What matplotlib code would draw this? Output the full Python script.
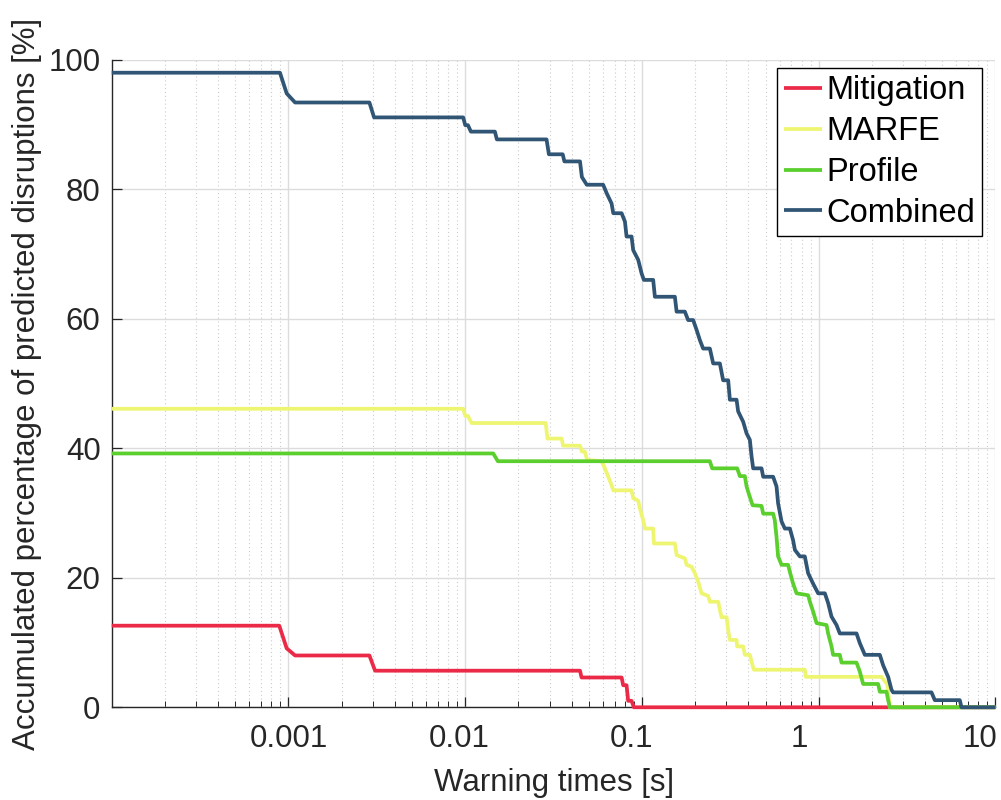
import numpy as np
import matplotlib
matplotlib.use('Agg')
import matplotlib.pyplot as plt
from matplotlib.ticker import LogLocator, NullFormatter
import matplotlib.transforms as mtransforms

# ---------------- data ----------------
series_names = ['Mitigation', 'MARFE', 'Profile', 'Combined']
series_colors = ['#EB2A47', '#EEF571', '#5ACF2D', '#315574']

mitigation_t = [1e-4, 8.87e-4, 9.77e-4, 1.09e-3, 2.87e-3, 3.09e-3, 4.46e-2, 4.55e-2,
                7.67e-2, 7.83e-2, 8.18e-2, 8.35e-2, 8.73e-2, 9.00e-2, 10]
mitigation_pct = [12.6, 12.6, 9.1, 8.0, 8.0, 5.65, 5.65, 4.6,
                  4.6, 3.4, 3.4, 1.0, 1.0, 0.0, 0.0]

marfe_t = [1e-4, 9.74e-3, 1.00e-2, 1.036e-2, 1.087e-2, 2.85e-2, 2.92e-2, 3.51e-2, 3.58e-2,
           4.46e-2, 4.57e-2, 4.75e-2, 4.89e-2, 5.91e-2, 6.17e-2, 6.44e-2, 6.73e-2, 6.88e-2,
           8.73e-2, 8.92e-2, 9.52e-2, 9.73e-2, 0.1016, 0.1040, 0.1157, 0.1168, 0.1535, 0.157,
           0.1748, 0.1788, 0.1908, 0.1992, 0.208, 0.2173, 0.2367, 0.2421, 0.270, 0.2758,
           0.282, 0.301, 0.3074, 0.3142, 0.3428, 0.3456, 0.3736, 0.3819, 0.4076, 0.417,
           0.4295, 0.834, 0.845, 2.265, 2.366, 2.44, 2.525, 10]
marfe_pct = [46.1, 46.1, 45.0, 45.0, 43.9, 43.9, 41.5, 41.5, 40.4,
             40.4, 39.5, 39.5, 38.2, 38.0, 36.9, 35.6, 34.3, 33.5,
             33.5, 32.3, 31.9, 30.7, 28.9, 27.6, 27.6, 25.3, 25.3, 23.5,
             23.0, 22.0, 21.7, 20.7, 19.4, 17.6, 17.2, 16.3, 16.3, 15.0,
             13.9, 13.9, 11.9, 10.4, 10.4, 9.4, 9.4, 8.1, 8.1, 7.0,
             5.8, 5.8, 4.7, 4.7, 4.0, 3.6, 0.0, 0.0]

profile_t = [1e-4, 1.44e-2, 1.53e-2, 0.2421, 0.2495, 0.3456, 0.3579, 0.3819, 0.3906, 0.404,
             0.4224, 0.4747, 0.485, 0.5521, 0.564, 0.577, 0.589, 0.616, 0.671, 0.6866,
             0.716, 0.749, 0.871, 0.891, 0.929, 0.972, 1.107, 1.13, 1.181, 1.206,
             1.316, 1.346, 1.636, 1.708, 1.783, 2.168, 2.216, 2.418, 2.47, 2.525, 10]
profile_pct = [39.2, 39.2, 38.0, 38.0, 36.9, 36.9, 35.7, 35.7, 34.1, 32.8,
               31.2, 31.1, 29.9, 29.9, 28.9, 26.3, 23.3, 22.0, 22.0, 20.9,
               19.1, 17.6, 17.3, 16.3, 14.8, 13.0, 12.7, 11.4, 9.4, 8.1,
               8.1, 6.9, 6.9, 5.5, 3.6, 3.6, 2.4, 2.4, 1.1, 0.0, 0.0]

combined_t = [1e-4, 8.95e-4, 9.77e-4, 1.09e-3, 2.87e-3, 3.05e-3, 9.74e-3, 1.00e-2, 1.036e-2,
              1.077e-2, 1.472e-2, 1.51e-2, 2.884e-2, 2.974e-2, 3.56e-2, 3.64e-2, 4.46e-2,
              4.57e-2, 4.87e-2, 6.03e-2, 6.31e-2, 6.73e-2, 6.88e-2, 7.67e-2, 8.01e-2, 8.18e-2,
              8.73e-2, 8.92e-2, 9.52e-2, 9.95e-2, 0.1025, 0.1157, 0.1183, 0.1535, 0.157,
              0.1748, 0.1824, 0.1948, 0.2036, 0.2126, 0.2218, 0.2421, 0.2528, 0.2758, 0.2878,
              0.3074, 0.3142, 0.3428, 0.350, 0.3736, 0.3906, 0.4076, 0.417, 0.4256, 0.4747,
              0.485, 0.5521, 0.577, 0.589, 0.616, 0.643, 0.6866, 0.716, 0.733, 0.782, 0.834,
              0.871, 0.929, 0.992, 1.083, 1.13, 1.181, 1.261, 1.316, 1.636, 1.708, 1.823,
              2.216, 2.313, 2.47, 2.58, 2.635, 4.345, 4.536, 6.28, 6.42, 10]
combined_pct = [98.0, 98.0, 94.8, 93.4, 93.4, 91.1, 91.1, 89.9, 89.9,
                88.9, 88.9, 87.7, 87.7, 85.4, 85.4, 84.3, 84.3,
                81.9, 80.7, 80.7, 79.4, 77.8, 76.3, 76.3, 75.0, 72.7,
                72.7, 70.6, 69.1, 67.0, 66.0, 66.0, 63.4, 63.4, 61.1,
                61.1, 59.8, 59.8, 58.3, 56.7, 55.4, 55.4, 53.1, 53.1, 50.5,
                50.5, 47.5, 47.5, 45.7, 44.1, 42.3, 41.3, 38.7, 36.9, 36.9,
                35.6, 35.6, 34.1, 31.5, 28.7, 27.6, 27.6, 25.8, 24.3, 23.3, 23.3,
                20.7, 19.1, 17.6, 17.6, 16.1, 14.0, 12.7, 11.4, 11.4, 9.9, 8.1,
                8.1, 6.5, 4.7, 2.7, 2.3, 2.3, 1.1, 1.1, 0.0, 0.0]

xtick_values = [1e-3, 1e-2, 1e-1, 1, 10]
xtick_labels = ['0.001', '0.01', '0.1', '1', '10']
ytick_values = [0, 20, 40, 60, 80, 100]

x_label = 'Warning times [s]'
y_label = 'Accumulated percentage of predicted disruptions [%]'

# ---------------- figure ----------------
plt.rcParams['font.family'] = ['Liberation Sans', 'DejaVu Sans']
FS = 22.5
LFS = 23.5
TXT = '#262626'

fig = plt.figure(figsize=(10.01, 8), dpi=100)
ax = fig.add_axes([0.1116, 0.1159, 0.8829, 0.8094])

all_t = [mitigation_t, marfe_t, profile_t, combined_t]
all_p = [mitigation_pct, marfe_pct, profile_pct, combined_pct]
for t, p, c, n in zip(all_t, all_p, series_colors, series_names):
    ax.plot(t, p, color=c, lw=2.7, label=n, solid_capstyle='butt',
            solid_joinstyle='round', clip_on=False, zorder=3)

ax.set_xscale('log')
ax.set_xlim(1e-4, 10)
ax.set_ylim(0, 100)
ax.set_xticks(xtick_values)
ax.set_xticklabels(xtick_labels)
ax.xaxis.set_minor_locator(LogLocator(base=10, subs=np.arange(2, 10)))
ax.xaxis.set_minor_formatter(NullFormatter())
ax.set_yticks(ytick_values)

ax.grid(which='major', color='#dcdcdc', lw=1.0, ls='-')
ax.grid(which='minor', axis='x', color='#cccccc', lw=0.8, ls=(0, (1, 2.5)))
ax.set_axisbelow(True)

for s in ['top', 'right']:
    ax.spines[s].set_visible(False)
for s in ['left', 'bottom']:
    ax.spines[s].set_color(TXT)
    ax.spines[s].set_linewidth(1.0)

ax.tick_params(which='major', direction='in', length=7, width=0.9, color=TXT,
               labelsize=FS, labelcolor=TXT)
ax.tick_params(which='minor', direction='in', length=4, width=0.7, color=TXT)
ax.tick_params(axis='x', pad=12)
ax.tick_params(axis='y', pad=8)

# small horizontal label shifts seen in the reference (pixels)
label_shift_px = [0, -6, -10, -19, -15]
for lab, dx in zip(ax.get_xticklabels(), label_shift_px):
    lab.set_transform(lab.get_transform() +
                      mtransforms.ScaledTranslation(dx / 100, 0, fig.dpi_scale_trans))

ax.set_xlabel(x_label, fontsize=FS, color=TXT, labelpad=10)
ax.set_ylabel(y_label, fontsize=FS, color=TXT, labelpad=5)

leg = ax.legend(loc='upper right', bbox_to_anchor=(0.9847, 0.9869), borderaxespad=0,
                fontsize=LFS, handlelength=1.15, handletextpad=0.12, labelspacing=0.3,
                borderpad=0.22, frameon=True, fancybox=False, framealpha=1)
leg.get_frame().set_edgecolor('black')
leg.get_frame().set_linewidth(1.0)
for line in leg.get_lines():
    line.set_linewidth(2.7)

fig.savefig('out.png', dpi=100)
